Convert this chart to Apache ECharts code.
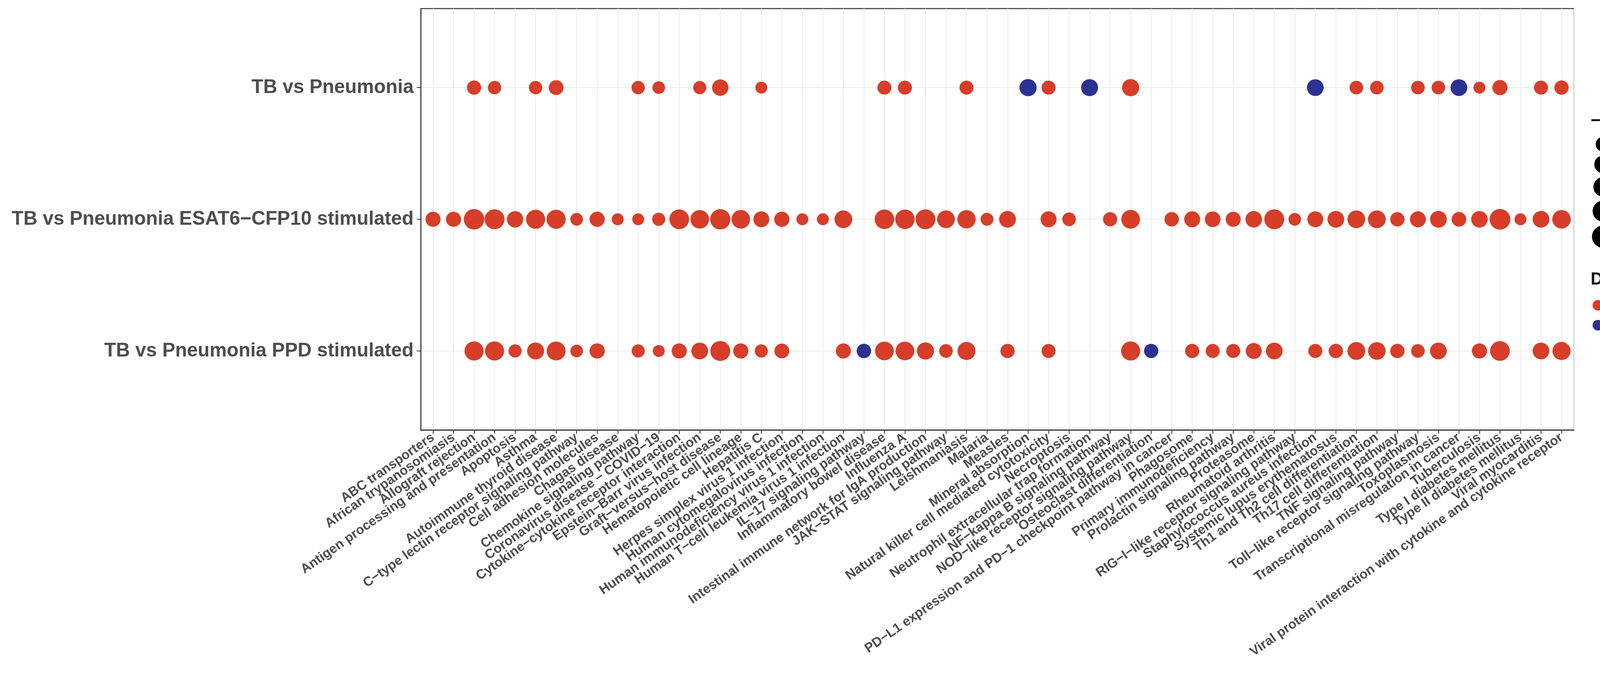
<!DOCTYPE html>
<html>
<head>
<meta charset="utf-8">
<script src="https://cdn.jsdelivr.net/npm/echarts@6/dist/echarts.min.js"></script>
<style>
  html, body { margin: 0; padding: 0; background: #fff; }
  #chart { width: 4428px; height: 1732px; }
</style>
</head>
<body>
<div id="chart"></div>
<script>
// KEGG pathways on the x axis
const pathways = [
  'ABC transporters', 'African trypanosomiasis', 'Allograft rejection',
  'Antigen processing and presentation', 'Apoptosis', 'Asthma',
  'Autoimmune thyroid disease', 'C−type lectin receptor signaling pathway',
  'Cell adhesion molecules', 'Chagas disease', 'Chemokine signaling pathway',
  'Coronavirus disease − COVID−19', 'Cytokine−cytokine receptor interaction',
  'Epstein−Barr virus infection', 'Graft−versus−host disease',
  'Hematopoietic cell lineage', 'Hepatitis C', 'Herpes simplex virus 1 infection',
  'Human cytomegalovirus infection', 'Human immunodeficiency virus 1 infection',
  'Human T−cell leukemia virus 1 infection', 'IL−17 signaling pathway',
  'Inflammatory bowel disease', 'Influenza A',
  'Intestinal immune network for IgA production', 'JAK−STAT signaling pathway',
  'Leishmaniasis', 'Malaria', 'Measles', 'Mineral absorption',
  'Natural killer cell mediated cytotoxicity', 'Necroptosis',
  'Neutrophil extracellular trap formation', 'NF−kappa B signaling pathway',
  'NOD−like receptor signaling pathway', 'Osteoclast differentiation',
  'PD−L1 expression and PD−1 checkpoint pathway in cancer', 'Phagosome',
  'Primary immunodeficiency', 'Prolactin signaling pathway', 'Proteasome',
  'Rheumatoid arthritis', 'RIG−I−like receptor signaling pathway',
  'Staphylococcus aureus infection', 'Systemic lupus erythematosus',
  'Th1 and Th2 cell differentiation', 'Th17 cell differentiation',
  'TNF signaling pathway', 'Toll−like receptor signaling pathway',
  'Toxoplasmosis', 'Transcriptional misregulation in cancer', 'Tuberculosis',
  'Type I diabetes mellitus', 'Type II diabetes mellitus', 'Viral myocarditis',
  'Viral protein interaction with cytokine and cytokine receptor'
];

const comparisons = [
  'TB vs Pneumonia',
  'TB vs Pneumonia ESAT6−CFP10 stimulated',
  'TB vs Pneumonia PPD stimulated'
];

// -log10 P-value per pathway (null = not significant)
const pneumoniaLogP = [
  null, null, 4.4, 3.7, null, 3.7, 5.0, null, null, null,
  3.7, 3.4, null, 3.6, 7.4, null, 3.3, null, null, null,
  null, null, 4.2, 4.2, null, null, 4.2, null, null, 8.9,
  4.2, null, 8.5, null, 8.9, null, null, null, null, null,
  null, null, null, 8.1, null, 3.9, 3.9, null, 3.9, 3.9,
  8.1, 3.3, 5.5, null, 4.2, 4.5
];
const esatLogP = [
  5.3, 5.3, 18.3, 16.2, 7.4, 13.8, 13.8, 3.4, 5.5, 3.3,
  3.3, 3.6, 15.6, 12.4, 17.5, 12.4, 6.5, 5.5, 3.3, 3.3,
  10.3, null, 15.0, 15.0, 16.2, 10.3, 11.7, 3.5, 8.1, null,
  6.7, 3.9, null, 4.4, 12.7, null, 4.6, 6.7, 6.1, 5.3,
  7.7, 16.2, 3.4, 6.6, 8.1, 10.3, 10.3, 4.5, 6.6, 8.1,
  4.8, 7.7, 18.9, 3.3, 8.1, 12.2
];
const ppdLogP = [
  null, null, 13.8, 13.8, 3.6, 8.5, 13.2, 3.4, 5.5, null,
  3.6, 3.3, 5.5, 8.1, 16.2, 5.5, 3.6, 5.0, null, null,
  5.3, 4.6, 12.7, 12.7, 8.9, 3.9, 10.7, null, 4.4, null,
  4.2, null, null, null, 13.8, 4.4, null, 4.4, 4.2, 4.2,
  6.6, 8.1, null, 4.2, 4.5, 10.3, 9.8, 4.5, 3.9, 8.1,
  null, 5.5, 15.6, null, 8.1, 11.2
];

// pathways that go DOWN; all others are UP
const pneumoniaDown = ['Mineral absorption', 'Neutrophil extracellular trap formation',
  'Staphylococcus aureus infection', 'Transcriptional misregulation in cancer'];
const esatDown = [];
const ppdDown = ['IL−17 signaling pathway', 'Osteoclast differentiation'];

const sizeBreaks = [5, 10, 15, 20, 25];
const directions = ['UP', 'DOWN'];
const dirColors = ['#D63E29', '#2D3191'];

function dotSize(v) {
  return 30.5 + 5.7 * Math.sqrt(Math.max(0, v - 3.3));
}

const rows = [
  [pneumoniaLogP, pneumoniaDown],
  [esatLogP, esatDown],
  [ppdLogP, ppdDown]
];
const upData = [], downData = [];
rows.forEach(function (row, r) {
  row[0].forEach(function (v, i) {
    if (v == null) return;
    (row[1].indexOf(pathways[i]) >= 0 ? downData : upData).push([i, r, v]);
  });
});

const font = "'Liberation Sans', Arial, sans-serif";
// discrete axis like ggplot: 0.6 of a step padding on both ends
const xMin = -0.6, xMax = pathways.length - 0.4;
const yMin = -0.6, yMax = comparisons.length - 0.4;
// the end values are empty placeholders so ECharts' min/max label check
// never hides a real pathway label
const xMarks = [xMin].concat(pathways.map((p, i) => i), [xMax]);
const yIdx = comparisons.map((c, i) => i);

// size legend, stacked like ggplot keys
const graphics = [{
  type: 'text', x: 4072, y: 310,
  style: { text: '−log10 P−value', font: 'bold 44px ' + font, fill: '#111', verticalAlign: 'middle' }
}];
let cy = 369;
sizeBreaks.forEach(function (b, k) {
  const d = dotSize(b);
  if (k > 0) cy += (dotSize(sizeBreaks[k - 1]) + d) / 2 + 10;
  graphics.push({ type: 'circle', shape: { cx: 4104, cy: cy, r: d / 2 }, style: { fill: '#000' } });
  graphics.push({
    type: 'text', x: 4160, y: cy,
    style: { text: String(b), font: 'bold 34px ' + font, fill: '#1a1a1a', verticalAlign: 'middle' }
  });
});
graphics.push({
  type: 'text', x: 4072, y: 716,
  style: { text: 'Direction', font: 'bold 44px ' + font, fill: '#111', verticalAlign: 'middle' }
});

const chart = echarts.init(document.getElementById('chart'));
chart.setOption({
  animation: false,
  backgroundColor: '#fff',
  grid: {
    left: 1077, right: 399, top: 22, bottom: 632,
    show: true, borderColor: '#333', borderWidth: 2.5, backgroundColor: '#fff'
  },
  xAxis: {
    type: 'value', min: xMin, max: xMax,
    axisLine: { show: true, onZero: false, lineStyle: { color: '#333', width: 2.5 } },
    axisTick: { show: true, customValues: xMarks, length: 10, lineStyle: { color: '#333', width: 2 } },
    axisLabel: {
      customValues: xMarks, formatter: v => (Number.isInteger(v) ? pathways[v] : ''),
      rotate: 35, margin: 16, showMinLabel: false, showMaxLabel: false,
      color: '#4D4D4D', fontSize: 34, fontWeight: 'bold', fontFamily: font
    },
    splitLine: { show: true, lineStyle: { color: '#EBEBEB', width: 2 } }
  },
  yAxis: {
    type: 'value', inverse: true, min: yMin, max: yMax,
    axisLine: { show: true, onZero: false, lineStyle: { color: '#333', width: 2.5 } },
    axisTick: { show: true, customValues: yIdx, length: 10, lineStyle: { color: '#333', width: 2 } },
    axisLabel: {
      customValues: yIdx, formatter: v => comparisons[v], margin: 18,
      showMinLabel: true, showMaxLabel: true,
      color: '#4D4D4D', fontSize: 49.5, fontWeight: 'bold', fontFamily: font
    },
    splitLine: { show: true, lineStyle: { color: '#EBEBEB', width: 2 } }
  },
  legend: {
    data: directions, orient: 'vertical', left: 4077, top: 764, padding: 0,
    icon: 'circle', itemWidth: 27, itemHeight: 27, itemGap: 17,
    textStyle: {
      fontSize: 34, lineHeight: 27, fontWeight: 'bold', color: '#1a1a1a',
      fontFamily: font, padding: [0, 0, 0, 26]
    }
  },
  graphic: graphics,
  series: [
    {
      name: directions[0], type: 'scatter', data: upData,
      symbolSize: d => dotSize(d[2]),
      itemStyle: { color: dirColors[0], opacity: 1 }
    },
    {
      name: directions[1], type: 'scatter', data: downData,
      symbolSize: d => dotSize(d[2]),
      itemStyle: { color: dirColors[1], opacity: 1 }
    }
  ]
});
</script>
</body>
</html>
